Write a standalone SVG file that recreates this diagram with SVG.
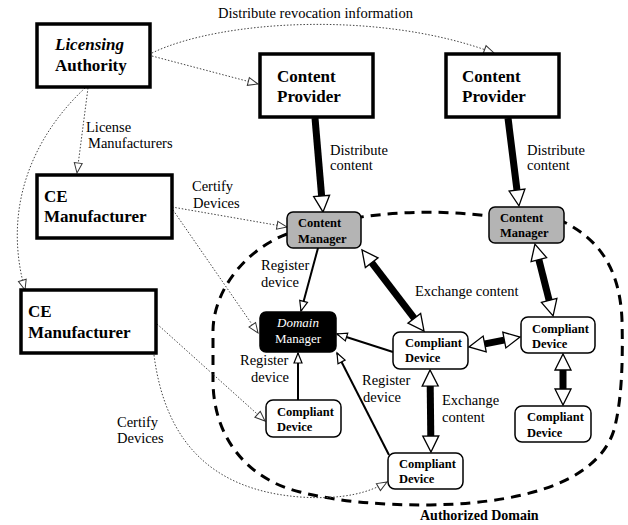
<svg xmlns="http://www.w3.org/2000/svg" width="628" height="525" viewBox="0 0 628 525">
<style>
.box{fill:#fff;stroke:#000;stroke-width:3.5}
.rnd{fill:#fff;stroke:#000;stroke-width:1.5}
.cm{fill:#b4b4b4;stroke:#000;stroke-width:1.5}
.dm{fill:#000;stroke:#000;stroke-width:1.5}
.big{font-family:"Liberation Serif",serif;font-weight:bold;font-size:17px;fill:#000}
.sm{font-family:"Liberation Serif",serif;font-weight:bold;font-size:12.5px;fill:#000}
.lbl{font-family:"Liberation Serif",serif;font-size:14.5px;fill:#000}
.dot{fill:none;stroke:#444;stroke-width:1;stroke-dasharray:1.5 1.8}
.thin{fill:none;stroke:#000;stroke-width:2}
.thick{fill:none;stroke:#000;stroke-width:7}
</style>
<defs>
<marker id="ad" markerUnits="userSpaceOnUse" markerWidth="12" markerHeight="10" refX="10" refY="4" orient="auto" overflow="visible"><path d="M0,0 L10,4 L0,8 z" fill="#fff" stroke="#333" stroke-width="1"/></marker>
<marker id="at" markerUnits="userSpaceOnUse" markerWidth="12" markerHeight="10" refX="10" refY="4" orient="auto" overflow="visible"><path d="M0,0 L10,4 L0,8 z" fill="#fff" stroke="#000" stroke-width="1.2"/></marker>
<marker id="ab" markerUnits="userSpaceOnUse" markerWidth="18" markerHeight="18" refX="1" refY="8" orient="auto-start-reverse" overflow="visible"><path d="M0,0 L16,8 L0,16 z" fill="#fff" stroke="#000" stroke-width="1.3"/></marker>
</defs>

<!-- authorized domain boundary -->
<path d="M287,234 C245,250 214,290 213,330 L213,380 C213,440 250,480 300,492 C340,502 380,505 430,505 C540,503 600,475 614,430 C622,400 623,360 622,320 C620,270 600,240 564,222 L489,216 Q425,208 361,217" fill="none" stroke="#000" stroke-width="3" stroke-dasharray="10 7"/>

<g id="connectors">
<path class="dot" d="M152,56 L258,84" marker-end="url(#ad)"/>
<path class="dot" d="M152,53 C220,20 380,10 494,53" marker-end="url(#ad)"/>
<path class="dot" d="M88,88 L77,173" marker-end="url(#ad)"/>
<path class="dot" d="M85,88 C40,130 0,200 25,290" marker-end="url(#ad)"/>
<path class="dot" d="M172,207 L287,227" marker-end="url(#ad)"/>
<path class="dot" d="M173,210 L258,333" marker-end="url(#ad)"/>
<path class="dot" d="M157,324 L265,421" marker-end="url(#ad)"/>
<path class="dot" d="M154,355 C165,440 210,490 300,497 C345,500 370,492 387,482" marker-end="url(#ad)"/>

<path class="thick" d="M315,118 L321.7,197" marker-end="url(#ab)"/>
<path class="thick" d="M508,118 L517.1,191" marker-end="url(#ab)"/>
<path class="thick" d="M371.1,261.9 L414.9,319.1" marker-start="url(#ab)" marker-end="url(#ab)"/>
<path class="thick" d="M538.6,258.6 L549.4,301.4" marker-start="url(#ab)" marker-end="url(#ab)"/>
<path class="thick" d="M483.7,344.1 L505.3,339.9" marker-start="url(#ab)" marker-end="url(#ab)"/>
<path class="thick" d="M430.2,385 L430.8,437" marker-start="url(#ab)" marker-end="url(#ab)"/>
<path class="thick" d="M563,369 L563,390" marker-start="url(#ab)" marker-end="url(#ab)"/>

<path class="thin" d="M318,248 L301,311" marker-end="url(#at)"/>
<path class="thin" d="M393,352 L337,334" marker-end="url(#at)"/>
<path class="thin" d="M298,400 L298,353" marker-end="url(#at)"/>
<path class="thin" d="M389,455 L337,353" marker-end="url(#at)"/>
</g>

<g id="labels">
<text class="lbl" x="218" y="18">Distribute revocation information</text>
<text class="lbl" x="86" y="132">License</text>
<text class="lbl" x="88" y="148">Manufacturers</text>
<text class="lbl" x="330" y="155">Distribute</text>
<text class="lbl" x="330" y="170">content</text>
<text class="lbl" x="527" y="155">Distribute</text>
<text class="lbl" x="527" y="170">content</text>
<text class="lbl" x="192" y="191">Certify</text>
<text class="lbl" x="193" y="208">Devices</text>
<text class="lbl" x="261" y="270">Register</text>
<text class="lbl" x="261" y="287">device</text>
<text class="lbl" x="415" y="296">Exchange content</text>
<text class="lbl" x="240" y="365">Register</text>
<text class="lbl" x="251" y="382">device</text>
<text class="lbl" x="362" y="385">Register</text>
<text class="lbl" x="363" y="402">device</text>
<text class="lbl" x="442" y="405">Exchange</text>
<text class="lbl" x="442" y="422">content</text>
<text class="lbl" x="117" y="427">Certify</text>
<text class="lbl" x="117" y="443">Devices</text>
<text class="big" x="420" y="520" style="font-size:14px">Authorized Domain</text>
</g>

<g id="licensing-authority">
<rect class="box" x="37" y="24" width="113" height="63"/>
<text class="big" x="55" y="50" font-style="italic">Licensing</text>
<text class="big" x="55" y="71">Authority</text>
</g>
<g id="content-provider-1">
<rect class="box" x="260" y="54" width="113" height="63"/>
<text class="big" x="277" y="82">Content</text>
<text class="big" x="277" y="102">Provider</text>
</g>
<g id="content-provider-2">
<rect class="box" x="446" y="54" width="113" height="63"/>
<text class="big" x="462" y="82">Content</text>
<text class="big" x="462" y="102">Provider</text>
</g>
<g id="ce-manufacturer-1">
<rect class="box" x="37" y="175" width="135" height="63"/>
<text class="big" x="44" y="202">CE</text>
<text class="big" x="44" y="222">Manufacturer</text>
</g>
<g id="ce-manufacturer-2">
<rect class="box" x="21" y="290" width="135" height="63"/>
<text class="big" x="28" y="317">CE</text>
<text class="big" x="28" y="338">Manufacturer</text>
</g>
<g id="content-manager-1">
<rect class="cm" x="287" y="212" width="74" height="36" rx="6"/>
<text class="sm" x="298" y="227">Content</text>
<text class="sm" x="298" y="243">Manager</text>
</g>
<g id="content-manager-2">
<rect class="cm" x="489" y="207" width="75" height="36" rx="6"/>
<text class="sm" x="500" y="222">Content</text>
<text class="sm" x="500" y="237">Manager</text>
</g>
<g id="domain-manager">
<rect class="dm" x="260" y="312" width="76" height="40" rx="6"/>
<text x="298" y="327" text-anchor="middle" font-family="Liberation Serif, serif" font-size="13" font-style="italic" fill="#fff">Domain</text>
<text x="298" y="343" text-anchor="middle" font-family="Liberation Serif, serif" font-size="13" fill="#fff">Manager</text>
</g>
<g id="compliant-device-a">
<rect class="rnd" x="393" y="332" width="75" height="37" rx="7"/>
<text class="sm" x="405" y="347">Compliant</text>
<text class="sm" x="405" y="362">Device</text>
</g>
<g id="compliant-device-b">
<rect class="rnd" x="521" y="317" width="74" height="36" rx="7"/>
<text class="sm" x="532" y="333">Compliant</text>
<text class="sm" x="532" y="348">Device</text>
</g>
<g id="compliant-device-c">
<rect class="rnd" x="515" y="406" width="76" height="36" rx="7"/>
<text class="sm" x="527" y="421">Compliant</text>
<text class="sm" x="527" y="437">Device</text>
</g>
<g id="compliant-device-d">
<rect class="rnd" x="266" y="400" width="75" height="37" rx="7"/>
<text class="sm" x="277" y="416">Compliant</text>
<text class="sm" x="277" y="431">Device</text>
</g>
<g id="compliant-device-e">
<rect class="rnd" x="388" y="453" width="75" height="36" rx="7"/>
<text class="sm" x="399" y="468">Compliant</text>
<text class="sm" x="399" y="483">Device</text>
</g>
</svg>
